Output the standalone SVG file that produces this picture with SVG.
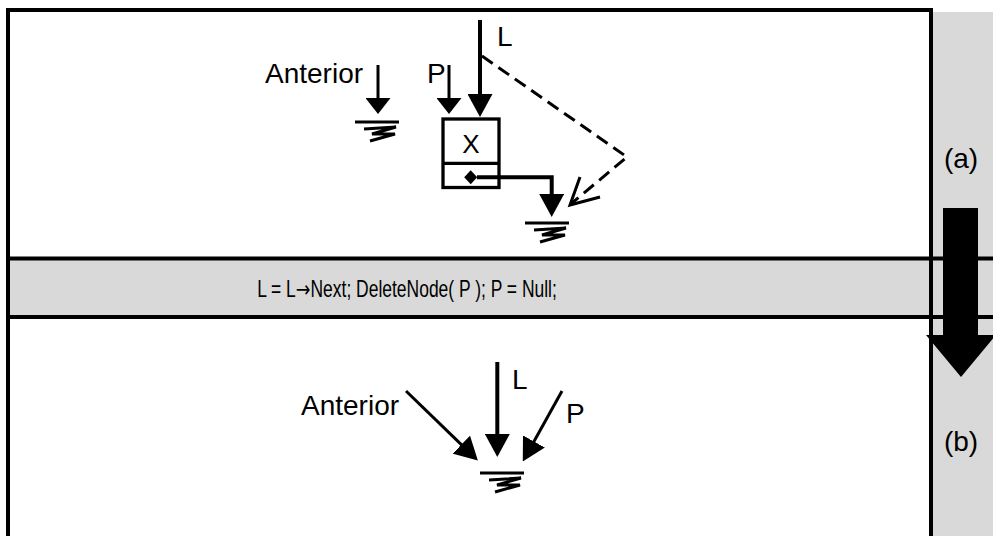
<svg xmlns="http://www.w3.org/2000/svg" width="993" height="536" viewBox="0 0 993 536">
<style>
.frame{stroke:#000;stroke-width:4;fill:none}
.ln{stroke:#000;stroke-width:3;fill:none}
.lnb{stroke:#000;stroke-width:4;fill:none}
.gnd{stroke:#000;stroke-width:3;fill:none;stroke-linejoin:miter}
.dash{stroke:#000;stroke-width:3;fill:none;stroke-dasharray:13 7}
.t{font-family:"Liberation Sans",Arial,sans-serif;font-size:28px;fill:#000}
.tm{font-family:"Liberation Sans",Arial,sans-serif;font-size:23px;fill:#000}
.arr{font-family:"DejaVu Sans",sans-serif}
</style>
<defs>
<marker id="big" markerUnits="userSpaceOnUse" viewBox="0 0 23 25" refX="4" refY="12.5" markerWidth="23" markerHeight="25" orient="auto">
<path d="M0,0 L23,12.5 L0,25 z" fill="#000"/>
</marker>
<marker id="small" markerUnits="userSpaceOnUse" viewBox="0 0 16 25" refX="3" refY="12.5" markerWidth="16" markerHeight="25" orient="auto">
<path d="M0,0 L16,12.5 L0,25 z" fill="#000"/>
</marker>
<g id="ground">
<path class="gnd" d="M-22,0 H22"/>
<path class="gnd" d="M-13,7 L19,5 L-5,12 L18,12 L-7,19"/>
</g>
</defs>

<g id="background">
<rect x="933" y="12" width="60" height="524" fill="#d9d9d9"/>
<rect x="10" y="260" width="983" height="56" fill="#d9d9d9"/>
</g>

<g id="frame">
<path class="frame" d="M8,536 V10 H931 V536"/>
<path class="frame" d="M6,258.5 H993"/>
<path class="frame" d="M6,317 H993"/>
</g>

<g id="step-arrow">
<path d="M943,208 H978 V335 H996 L961,377 L926,335 H943 Z" fill="#000"/>
</g>

<g id="label-a"><text class="t" x="961" y="168" text-anchor="middle">(a)</text></g>
<g id="label-b"><text class="t" x="961" y="451" text-anchor="middle">(b)</text></g>

<g id="operation" transform="translate(407,297) scale(0.76,1)">
<text class="tm" x="0" y="0" text-anchor="middle">L = L<tspan class="arr">→</tspan>Next; DeleteNode( P ); P = Null;</text>
</g>

<!-- (a) state -->
<g id="a-anterior">
<text class="t" x="265" y="83">Anterior</text>
<use href="#ground" x="377" y="122"/>
</g>
<g id="a-P"><text class="t" x="427" y="83">P</text></g>
<g id="a-L"><text class="t" x="497" y="46">L</text></g>
<g id="a-node">
<rect x="443" y="119" width="56" height="68.5" fill="#fff" stroke="#000" stroke-width="3.3"/>
<path d="M443,163.3 H499" stroke="#000" stroke-width="3.3"/>
<text x="471" y="153" text-anchor="middle" font-family="Liberation Sans, Arial, sans-serif" font-size="26">X</text>
<path d="M470.7,170.3 L477.2,177.3 L470.7,184.3 L464.2,177.3 Z" fill="#000"/>
</g>
<g id="a-null"><use href="#ground" x="547" y="223"/></g>

<g id="connectors">
<path class="ln" d="M378,65 V101" marker-end="url(#small)"/>
<path class="ln" d="M449,65 V101" marker-end="url(#small)"/>
<path class="lnb" d="M480,20 V98" marker-end="url(#big)"/>
<path class="lnb" d="M477,177.3 H551.7 V198" marker-end="url(#big)"/>
<path class="dash" d="M482,56 L627,157 L572,203"/>
<path class="ln" d="M580,177 L570,205 L600,197"/>
<!-- (b) -->
<path class="ln" d="M406,391 L464.2,447.4" marker-end="url(#big)"/>
<path class="lnb" d="M497.3,362 V438" marker-end="url(#big)"/>
<path class="ln" d="M562,391 L532,445" marker-end="url(#big)"/>
</g>

<g id="b-anterior"><text class="t" x="301" y="415">Anterior</text></g>
<g id="b-L"><text class="t" x="512" y="389">L</text></g>
<g id="b-P"><text class="t" x="566" y="423">P</text></g>
<g id="b-null"><use href="#ground" x="502" y="473"/></g>
</svg>
